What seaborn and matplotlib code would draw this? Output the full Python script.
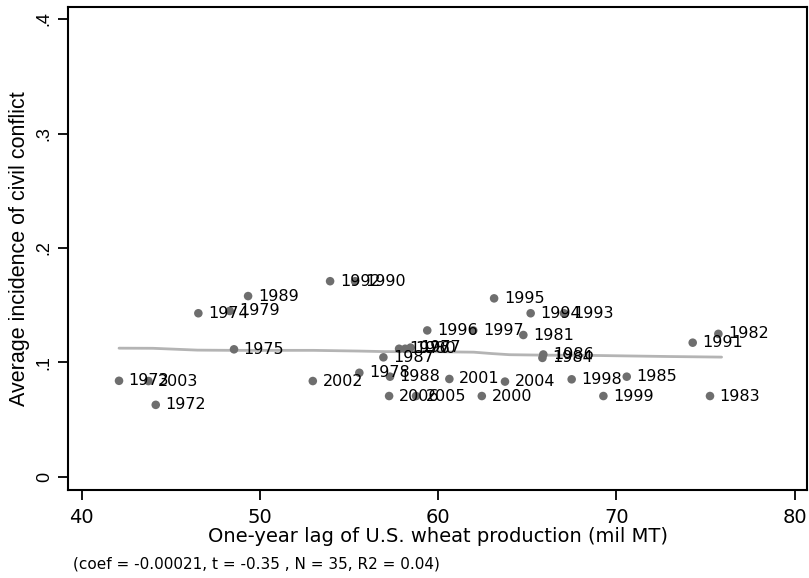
import matplotlib
matplotlib.use("Agg")
import matplotlib.pyplot as plt
import seaborn as sns
import pandas as pd

# 数据：年份、上一年美国小麦产量 (mil MT)、平均内战发生率
years = [1972, 1973, 1974, 1975, 1976, 1977, 1978, 1979, 1980, 1981, 1982, 1983,
         1984, 1985, 1986, 1987, 1988, 1989, 1990, 1991, 1992, 1993, 1994, 1995,
         1996, 1997, 1998, 1999, 2000, 2001, 2002, 2003, 2004, 2005, 2006]
wheat_lag = [44.16, 42.10, 46.55, 48.55, 57.81, 58.45, 55.58, 48.31, 58.15, 64.78,
             75.72, 75.25, 65.85, 70.58, 65.90, 56.93, 57.30, 49.34, 55.34, 74.28,
             53.94, 67.06, 65.19, 63.14, 59.39, 61.97, 67.49, 69.27, 62.45, 60.63,
             52.97, 43.75, 63.75, 58.76, 57.25]
conflict = [0.063, 0.084, 0.143, 0.1115, 0.112, 0.113, 0.091, 0.145, 0.112, 0.124,
            0.125, 0.0707, 0.104, 0.0876, 0.107, 0.1045, 0.0876, 0.158, 0.171, 0.1173,
            0.171, 0.143, 0.143, 0.156, 0.128, 0.128, 0.0853, 0.0707, 0.0707, 0.0856,
            0.0838, 0.0838, 0.0833, 0.0707, 0.0707]

# lowess 平滑线
smooth_x = [42.1, 44.0, 46.5, 48.5, 53.0, 55.5, 57.0, 60.0, 62.0, 63.0, 64.0, 66.0,
            68.5, 73.0, 75.9]
smooth_y = [0.1125, 0.1124, 0.1108, 0.1106, 0.1106, 0.1100, 0.1095, 0.1094, 0.1090,
            0.1078, 0.1068, 0.1064, 0.1062, 0.1052, 0.1047]

x_ticks = [40, 50, 60, 70, 80]
y_ticks = [0, 0.1, 0.2, 0.3, 0.4]
y_tick_labels = ["0", ".1", ".2", ".3", ".4"]
note = "(coef = -0.00021, t = -0.35 , N = 35, R2 = 0.04)"

sns.set_theme(style="white")
plt.rcParams["font.family"] = ["DejaVu Sans"]
plt.rcParams["text.color"] = "black"
plt.rcParams["axes.labelcolor"] = "black"
plt.rcParams["xtick.color"] = "black"
plt.rcParams["ytick.color"] = "black"

df = pd.DataFrame({"year": years, "wheat": wheat_lag, "conflict": conflict})

fig = plt.figure(figsize=(8.09, 5.78), dpi=100)
ax = fig.add_axes([0.0841, 0.1522, 0.9134, 0.8357])

sns.scatterplot(data=df, x="wheat", y="conflict", color="#6e6e6e", s=38,
                edgecolor="none", ax=ax, zorder=3)
sns.lineplot(x=smooth_x, y=smooth_y, color="#b4b4b4", linewidth=2, ax=ax, zorder=2)

for yr, xv, yv in zip(df["year"], df["wheat"], df["conflict"]):
    ax.annotate(str(yr), (xv, yv), xytext=(7, 0), textcoords="offset points",
                ha="left", va="center", fontsize=11.5, color="black", zorder=4)

ax.set_xlim(39.24, 80.69)
ax.set_ylim(-0.0114, 0.4105)

for s in ax.spines.values():
    s.set_color("black")
    s.set_linewidth(1.5)

ax.tick_params(axis="both", direction="out", length=7, width=1.3, color="black",
               labelcolor="black", bottom=True, left=True)
ax.tick_params(axis="x", pad=6)
ax.tick_params(axis="y", pad=4)
ax.set_xticks(x_ticks)
ax.set_xticklabels([str(t) for t in x_ticks], fontsize=14)
ax.set_yticks(y_ticks)
ax.set_yticklabels(y_tick_labels, rotation=90, va="center", fontsize=13,
                   family="Liberation Sans")

ax.set_xlabel("One-year lag of U.S. wheat production (mil MT)", fontsize=14,
              labelpad=0, color="black")
ax.set_ylabel("Average incidence of civil conflict", fontsize=15.5,
              family="Liberation Sans", labelpad=4, color="black")

fig.text(73 / 809, 1 - 564 / 578, note, fontsize=11, ha="left", va="center",
         color="black")

fig.savefig("out.png", dpi=100)
plt.close(fig)
